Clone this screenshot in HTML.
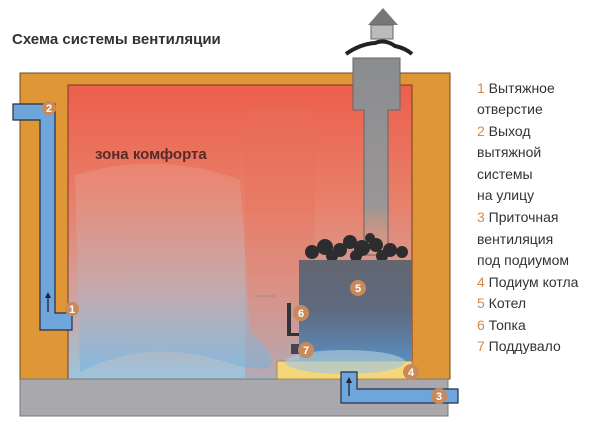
<!DOCTYPE html>
<html><head><meta charset="utf-8"><style>
body{margin:0;background:#fff}
.t{font-family:"Liberation Sans",sans-serif;}
</style></head><body>
<svg width="600" height="437" viewBox="0 0 600 437" xmlns="http://www.w3.org/2000/svg">
<defs>
<linearGradient id="rg" x1="0" y1="0" x2="0" y2="1">
<stop offset="0" stop-color="#ec5f4c"/><stop offset="0.4" stop-color="#e8806a"/><stop offset="0.7" stop-color="#d4a09a"/><stop offset="1" stop-color="#9cc4dc"/></linearGradient>
<linearGradient id="bl" x1="0" y1="0" x2="0" y2="1">
<stop offset="0" stop-color="#f0a898" stop-opacity="0.3"/><stop offset="0.6" stop-color="#a8bcd0" stop-opacity="0.35"/><stop offset="1" stop-color="#70b0e0" stop-opacity="0.55"/></linearGradient>
<linearGradient id="st" x1="0" y1="0" x2="0" y2="1">
<stop offset="0" stop-color="#626670"/><stop offset="0.5" stop-color="#5f6a80"/><stop offset="1" stop-color="#5a8ec0"/></linearGradient>
<linearGradient id="ch" x1="0" y1="0" x2="0" y2="1">
<stop offset="0" stop-color="#8a8c90"/><stop offset="0.75" stop-color="#9a9696"/><stop offset="1" stop-color="#e0a080" stop-opacity="0.4"/></linearGradient>
</defs>
<text x="12" y="44" class="t" font-size="15" font-weight="bold" fill="#333">Схема системы вентиляции</text>
<rect x="20" y="73" width="430" height="306" fill="#df9636" stroke="#6a4a20" stroke-width="1"/>
<rect x="68" y="85" width="344" height="294" fill="url(#rg)" stroke="#7a3a20" stroke-width="1"/>
<rect x="245" y="110" width="70" height="268" fill="#e8705a" opacity="0.3"/>
<path d="M75 175 Q160 150 240 180 L250 330 Q300 380 235 365 Q150 335 80 372 Z" fill="url(#bl)"/>
<rect x="20" y="379" width="428" height="37" fill="#a9a9ad" stroke="#777" stroke-width="1"/>
<path d="M13 104 H55 V313 H72 V330 H40 V120 H13 Z" fill="#6ea6dc" stroke="#243040" stroke-width="1.2"/>
<line x1="48" y1="312" x2="48" y2="296" stroke="#223" stroke-width="1.3"/><path d="M45 298 L48 292 L51 298Z" fill="#223"/>
<path d="M383 8 L398 25 L368 25 Z" fill="#777"/>
<rect x="371" y="25" width="22" height="14" fill="#bbb" stroke="#666"/>
<path d="M353 58 L353 110 L364 110 L364 255 L388 255 L388 110 L400 110 L400 58 Z" fill="url(#ch)" stroke="#666"/>
<path d="M346 54 Q360 44 375 43 Q385 39 395 46 Q405 48 412 54" fill="none" stroke="#222" stroke-width="4"/>
<g fill="#2d2d30">
<circle cx="312" cy="252" r="7"/><circle cx="325" cy="247" r="8"/><circle cx="340" cy="250" r="7"/><circle cx="350" cy="242" r="7"/><circle cx="362" cy="248" r="8"/><circle cx="376" cy="245" r="7"/><circle cx="390" cy="250" r="7"/><circle cx="402" cy="252" r="6"/><circle cx="332" cy="256" r="6"/><circle cx="356" cy="256" r="6"/><circle cx="382" cy="256" r="6"/><circle cx="370" cy="238" r="5"/>
</g>
<rect x="299" y="260" width="113" height="102" fill="url(#st)"/>
<rect x="287" y="303" width="4" height="30" fill="#333"/><rect x="287" y="333" width="12" height="3" fill="#333"/>
<rect x="291" y="344" width="8" height="10" fill="#445"/>
<line x1="254" y1="296" x2="276" y2="296" stroke="#a88" stroke-width="1"/>
<rect x="277" y="361" width="135" height="18" fill="#f3d77a" stroke="#a08040" stroke-width="0.8"/>
<ellipse cx="345" cy="362" rx="60" ry="12" fill="#a8c8d8" opacity="0.7"/>
<path d="M341 372 H357 V389 H458 V403 H341 Z" fill="#6ea6dc" stroke="#243040" stroke-width="1.2"/>
<line x1="349" y1="396" x2="349" y2="382" stroke="#223" stroke-width="1.3"/><path d="M346 383 L349 377 L352 383Z" fill="#223"/>
<g class="t" font-size="11" font-weight="bold" fill="#fff" text-anchor="middle">
<circle cx="49" cy="108" r="7" fill="#c88a5a"/><text x="49" y="112">2</text>
<circle cx="72" cy="309" r="7" fill="#c88a5a"/><text x="72" y="313">1</text>
<circle cx="358" cy="288" r="8" fill="#c88a5a"/><text x="358" y="292">5</text>
<circle cx="301" cy="313" r="8" fill="#c88a5a"/><text x="301" y="317">6</text>
<circle cx="306" cy="350" r="8" fill="#c88a5a"/><text x="306" y="354">7</text>
<circle cx="411" cy="372" r="8" fill="#c88a5a"/><text x="411" y="376">4</text>
<circle cx="439" cy="396" r="8" fill="#c88a5a"/><text x="439" y="400">3</text>
</g>
<text x="95" y="159" class="t" font-size="15" font-weight="bold" fill="#5a2a28">зона комфорта</text>
<g class="t" font-size="14" fill="#333">
<text x="477" y="93"><tspan fill="#d08a50">1</tspan> Вытяжное</text>
<text x="477" y="114">отверстие</text>
<text x="477" y="136"><tspan fill="#d08a50">2</tspan> Выход</text>
<text x="477" y="157">вытяжной</text>
<text x="477" y="179">системы</text>
<text x="477" y="200">на улицу</text>
<text x="477" y="222"><tspan fill="#d08a50">3</tspan> Приточная</text>
<text x="477" y="244">вентиляция</text>
<text x="477" y="265">под подиумом</text>
<text x="477" y="287"><tspan fill="#d08a50">4</tspan> Подиум котла</text>
<text x="477" y="308"><tspan fill="#d08a50">5</tspan> Котел</text>
<text x="477" y="330"><tspan fill="#d08a50">6</tspan> Топка</text>
<text x="477" y="351"><tspan fill="#d08a50">7</tspan> Поддувало</text>
</g>
</svg>
</body></html>
